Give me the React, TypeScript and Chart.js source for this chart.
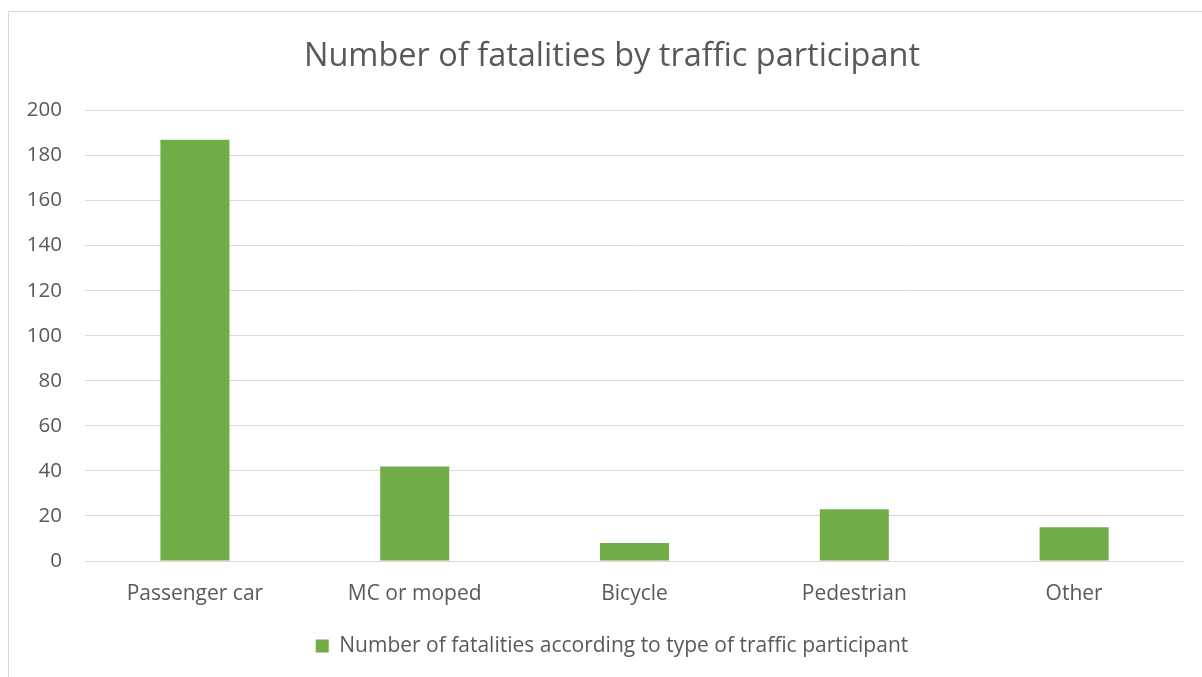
import React, { useEffect, useRef } from "react";
import { Chart, registerables } from "chart.js";

Chart.register(...registerables);

const categories = ["Passenger car", "MC or moped", "Bicycle", "Pedestrian", "Other"];
const fatalities = [187, 42, 8, 23, 15];
const seriesLabel = "Number of fatalities according to type of traffic participant";
const titleText = "Number of fatalities by traffic participant";
const yMin = 0;
const yMax = 200;
const yStep = 20;

const FONT = "'Open Sans', sans-serif";
const TEXT = "#595959";
const GRID = "#d9d9d9";
const BAR = "#70ad47";

export default function App() {
  const ref = useRef<HTMLCanvasElement | null>(null);

  useEffect(() => {
    if (!ref.current) return;
    const chart = new Chart(ref.current, {
      type: "bar",
      data: {
        labels: categories,
        datasets: [
          {
            label: seriesLabel,
            data: fatalities,
            backgroundColor: BAR,
            borderWidth: 0,
            categoryPercentage: 1,
            barPercentage: 0.314,
          },
        ],
      },
      options: {
        responsive: false,
        animation: false,
        devicePixelRatio: 1,
        layout: { padding: { left: 0, right: 0, top: 0, bottom: 23.5 } },
        plugins: {
          title: {
            display: true,
            text: titleText,
            color: TEXT,
            font: { family: FONT, size: 32.5, weight: "normal" },
            padding: { top: 25.5, bottom: 34 },
          },
          legend: {
            display: true,
            position: "bottom",
            labels: {
              color: TEXT,
              font: { family: FONT, size: 21 },
              boxWidth: 13,
              boxHeight: 13,
              padding: 8.5,
            },
          },
          tooltip: { enabled: false },
        },
        scales: {
          x: {
            grid: { display: false, drawTicks: false },
            border: { display: false },
            ticks: {
              color: TEXT,
              font: { family: FONT, size: 21 },
              padding: 20.4,
              maxRotation: 0,
            },
          },
          y: {
            min: yMin,
            max: yMax,
            grid: { color: GRID, lineWidth: 1, drawTicks: false },
            border: { display: false },
            ticks: {
              stepSize: yStep,
              color: TEXT,
              font: { family: FONT, size: 20.5 },
              padding: 23,
            },
            afterFit: (s: any) => {
              s.width = 76;
            },
          },
          y2: {
            position: "right",
            display: true,
            grid: { display: false, drawTicks: false },
            border: { display: false },
            ticks: { display: false },
            afterFit: (s: any) => {
              s.width = 31;
            },
          },
        },
      },
    });
    return () => chart.destroy();
  }, []);

  return (
    <div
      style={{
        position: "fixed",
        left: 8,
        top: 11,
        width: 1206,
        height: 678,
        border: `1px solid ${GRID}`,
        background: "#fff",
      }}
    >
      <canvas ref={ref} width={1206} height={678} style={{ display: "block" }} />
    </div>
  );
}
